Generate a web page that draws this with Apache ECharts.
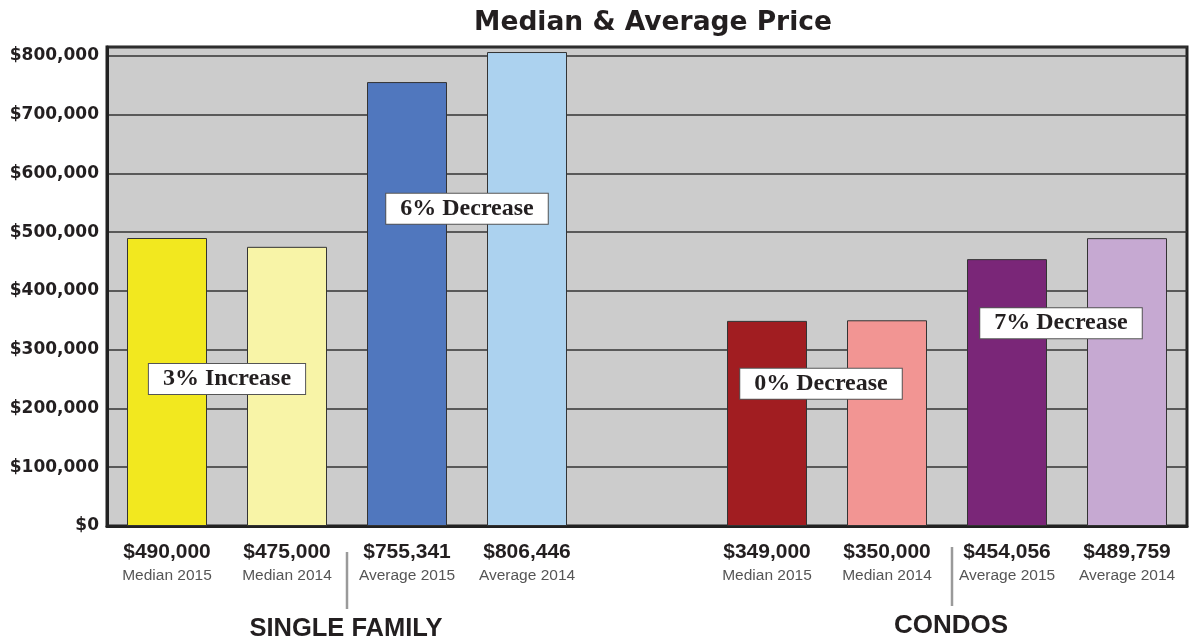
<!DOCTYPE html>
<html><head><meta charset="utf-8">
<script src="https://cdn.jsdelivr.net/npm/echarts@6/dist/echarts.min.js"></script>
<style>html,body{margin:0;padding:0;background:#fff}#c{width:1191px;height:640px}</style>
</head><body><div id="c"></div>
<script>
const categories = ['Median 2015','Median 2014','Average 2015','Average 2014','','Median 2015','Median 2014','Average 2015','Average 2014'];
const priceLabels = ['$490,000','$475,000','$755,341','$806,446','','$349,000','$350,000','$454,056','$489,759'];
const prices = [490000,475000,755341,806446,'-',349000,350000,454056,489759];
const barColors = ['#f2e81f','#f8f4a7','#5077be','#acd2ef','#cccccc','#a11d21','#f29593','#7a2678','#c6a9d2'];
const changeLabels = ['3% Increase','6% Decrease','0% Decrease','7% Decrease'];
const changePos = [0.5,2.5,5.45,7.45];
const changeLevel = [250000,540000,242000,345000];
const groupNames = ['SINGLE FAMILY','CONDOS'];

const chart = echarts.init(document.getElementById('c'));
chart.setOption({
  animation:false,
  backgroundColor:'#ffffff',
  title:{text:'Median & Average Price',left:648,top:5,textAlign:'center',
    textStyle:{fontFamily:'DejaVu Sans',fontWeight:'bold',fontSize:26.5,color:'#231f20'}},
  grid:{left:107,right:4,top:47,bottom:114,show:true,backgroundColor:'#cccccc',borderColor:'#222',borderWidth:3,containLabel:false},
  xAxis:[{
    type:'category',data:categories,
    axisLine:{show:true,onZero:false,lineStyle:{color:'#222',width:3}},
    axisTick:{show:false},
    axisLabel:{interval:0,margin:13,
      formatter:(v,i)=> priceLabels[i] ? '{v|'+priceLabels[i]+'}\n{s|'+v+'}' : '',
      rich:{
        v:{fontFamily:'Liberation Sans',fontWeight:'bold',fontSize:21,color:'#231f20',lineHeight:26,align:'center'},
        s:{fontFamily:'Liberation Sans',fontSize:15.5,color:'#555555',lineHeight:22,align:'center'}
      }},
    splitLine:{show:false}
  },{
    type:'value',min:-0.5,max:8.5,show:false,splitLine:{show:false},axisLine:{show:false,onZero:false}
  }],
  yAxis:{type:'value',min:0,max:815000,interval:100000,
    axisLine:{show:true,onZero:false,lineStyle:{color:'#222',width:3}},
    axisTick:{show:false},
    axisLabel:{margin:8,showMaxLabel:false,fontFamily:'DejaVu Sans',fontWeight:'bold',fontSize:17,color:'#231f20',
      formatter:v=> v%100000!==0 ? '' : '$'+v.toLocaleString('en-US')},
    splitLine:{show:true,lineStyle:{color:'#333',width:1.5}}
  },
  series:[{
    type:'bar',xAxisIndex:0,barWidth:80,z:3,
    data:prices.map((v,i)=>({value:v,itemStyle:{color:barColors[i]}})),
    itemStyle:{borderColor:'#333',borderWidth:1}
  },{
    type:'scatter',xAxisIndex:1,yAxisIndex:0,z:10,symbol:'rect',symbolSize:1,
    itemStyle:{color:'rgba(0,0,0,0)',opacity:1},
    data:changePos.map((x,i)=>[x,changeLevel[i]]),
    label:{show:true,position:'inside',opacity:1,formatter:p=>changeLabels[p.dataIndex],
      fontFamily:'Liberation Serif',fontWeight:'bold',fontSize:24,color:'#231f20',lineHeight:26,
      backgroundColor:'#ffffff',borderColor:'#555',borderWidth:1,padding:[2,14,2,14]},
    emphasis:{disabled:true}
  }],
  graphic:[
    {type:'line',shape:{x1:347,y1:552,x2:347,y2:609},style:{stroke:'#9a9a9a',lineWidth:2.5}},
    {type:'line',shape:{x1:952,y1:547,x2:952,y2:606},style:{stroke:'#9a9a9a',lineWidth:2.5}},
    {type:'text',x:346,y:629,style:{text:groupNames[0],fontFamily:'Liberation Sans',fontWeight:'bold',fontSize:25.5,fill:'#231f20',textAlign:'center',textVerticalAlign:'middle'}},
    {type:'text',x:951,y:626,style:{text:groupNames[1],fontFamily:'Liberation Sans',fontWeight:'bold',fontSize:26,fill:'#231f20',textAlign:'center',textVerticalAlign:'middle'}}
  ]
});
</script></body></html>
